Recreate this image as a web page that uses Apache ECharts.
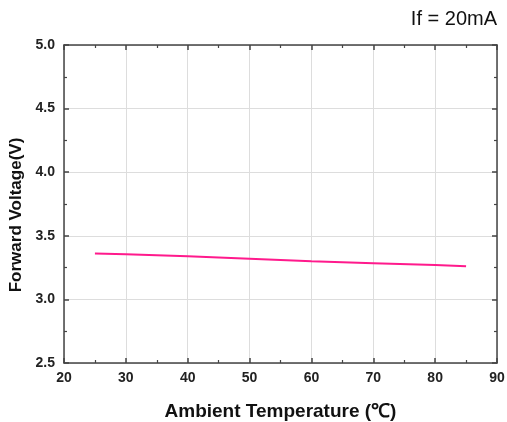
<!DOCTYPE html>
<html><head><meta charset="utf-8">
<script src="https://cdn.jsdelivr.net/npm/echarts@6/dist/echarts.min.js"></script>
<style>html,body{margin:0;padding:0;background:#fff}#c{width:507px;height:422px}</style>
</head><body><div id="c"></div>
<script>
const temps = [25, 30, 40, 50, 60, 70, 80, 85];
const voltages = [3.36, 3.355, 3.34, 3.32, 3.30, 3.285, 3.27, 3.26];
const xTicks = [20, 30, 40, 50, 60, 70, 80, 90];
const yTicks = ['2.5', '3.0', '3.5', '4.0', '4.5', '5.0'];

const font = 'Liberation Sans, Arial, sans-serif';
const axisColor = '#444';
const chart = echarts.init(document.getElementById('c'));
const common = {
  axisLine: {show: true, onZero: false, lineStyle: {color: axisColor, width: 1.5}},
  axisTick: {show: true, inside: true, length: 5, lineStyle: {color: axisColor, width: 1.5}},
  minorTick: {show: true, splitNumber: 2, length: 3, lineStyle: {color: axisColor, width: 1.2}},
};
chart.setOption({
  animation: false,
  graphic: [{type: 'text', right: 10, top: 9, style: {text: 'If = 20mA', font: '20px ' + font, fill: '#111'}}],
  grid: {left: 64, right: 10, top: 45, bottom: 59, containLabel: false, outerBoundsMode: 'none'},
  xAxis: [
    Object.assign({type: 'value', min: 20, max: 90, interval: 10, position: 'bottom',
      name: 'Ambient Temperature (\u2103)', nameLocation: 'middle', nameGap: 39,
      nameTextStyle: {fontFamily: font, fontWeight: 'bold', fontSize: 19, color: '#111'},
      axisLabel: {fontFamily: font, fontWeight: 'bold', fontSize: 14, color: '#222', margin: 8,
        formatter: v => xTicks.includes(v) ? String(v) : ''},
      splitLine: {show: true, lineStyle: {color: '#ddd', width: 1}}}, common),
    Object.assign({type: 'value', min: 20, max: 90, interval: 10, position: 'top',
      axisLabel: {show: false}, splitLine: {show: false}}, common)
  ],
  yAxis: [
    Object.assign({type: 'value', min: 2.5, max: 5.0, interval: 0.5, position: 'left',
      name: 'Forward Voltage(V)', nameLocation: 'middle', nameGap: 38,
      nameTextStyle: {fontFamily: font, fontWeight: 'bold', fontSize: 17, color: '#111', padding: [0, 22, 0, 0]},
      axisLabel: {fontFamily: font, fontWeight: 'bold', fontSize: 14, color: '#222', margin: 9,
        formatter: v => yTicks.find(t => Math.abs(parseFloat(t) - v) < 1e-6) || ''},
      splitLine: {show: true, lineStyle: {color: '#ddd', width: 1}}}, common),
    Object.assign({type: 'value', min: 2.5, max: 5.0, interval: 0.5, position: 'right',
      axisLabel: {show: false}, splitLine: {show: false}}, common)
  ],
  series: [{
    type: 'line', xAxisIndex: 0, yAxisIndex: 0, showSymbol: false, symbol: 'none',
    data: temps.map((t, i) => [t, voltages[i]]),
    lineStyle: {color: '#ff1a8c', width: 2}
  }]
});
</script></body></html>
